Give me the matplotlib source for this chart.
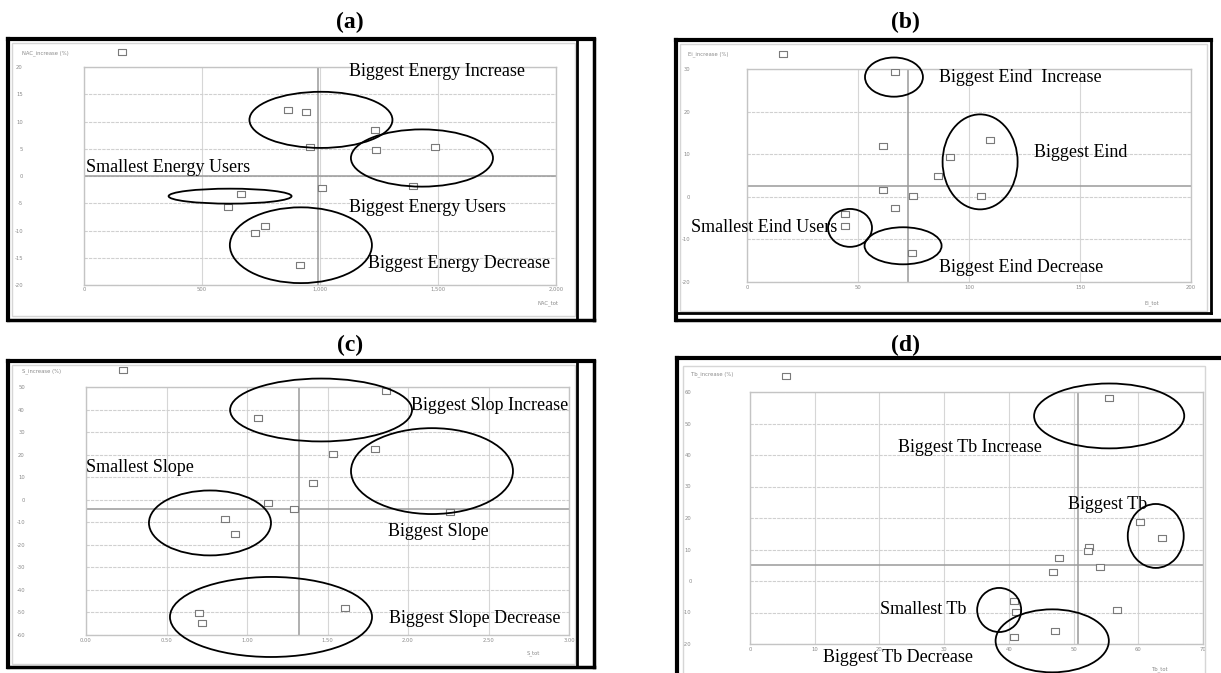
import matplotlib
matplotlib.use("Agg")
import matplotlib.pyplot as plt
from matplotlib.patches import Ellipse, Rectangle
from matplotlib.lines import Line2D

W, H = 1221, 673
fig = plt.figure(figsize=(W / 100, H / 100), dpi=100)
fig.patch.set_facecolor("white")

# ---------------- data ----------------
# (a) Energy (NAC)
a_x = [864, 940, 1233, 958, 1237, 1487, 1008, 1394, 665, 610, 767, 725, 915]
a_y = [12.2, 11.7, 8.5, 5.4, 4.8, 5.4, -2.2, -1.9, -3.3, -5.6, -9.1, -10.4, -16.3]
a_xticks = [0, 500, 1000, 1500, 2000]
a_xticklabels = ["0", "500", "1,000", "1,500", "2,000"]
a_yticks = [-20, -15, -10, -5, 0, 5, 10, 15, 20]
a_mean = (992, 0)

# (b) Eind
b_x = [66.7, 61.3, 61.3, 66.7, 44.1, 44.1, 109.5, 91.4, 86.0, 74.8, 105.4, 74.3]
b_y = [29.4, 12.0, 1.6, -2.6, -4.0, -6.8, 13.4, 9.4, 4.9, 0.2, 0.2, -13.2]
b_xticks = [0, 50, 100, 150, 200]
b_yticks = [-20, -10, 0, 10, 20, 30]
b_mean = (72.5, 2.5)

# (c) Slope
c_x = [1.068, 1.130, 1.292, 0.863, 0.925, 0.702, 0.720, 1.863, 1.534, 1.795, 1.410, 2.261, 1.609]
c_y = [36.3, -1.5, -4.1, -8.6, -15.2, -50.3, -54.7, 48.2, 20.3, 22.5, 7.4, -5.5, -48.0]
c_xticks = [0.0, 0.5, 1.0, 1.5, 2.0, 2.5, 3.0]
c_xticklabels = ["0.00", "0.50", "1.00", "1.50", "2.00", "2.50", "3.00"]
c_yticks = [-60, -50, -40, -30, -20, -10, 0, 10, 20, 30, 40, 50]
c_mean = (1.32, -4.1)

# (d) Tb
d_x = [55.5, 60.3, 63.7, 52.4, 52.2, 47.8, 46.8, 54.1, 56.7, 40.8, 41.1, 47.1, 40.8]
d_y = [58.1, 18.7, 13.7, 10.8, 9.6, 7.3, 2.9, 4.4, -9.2, -6.3, -9.8, -15.9, -17.8]
d_xticks = [0, 10, 20, 30, 40, 50, 60, 70]
d_yticks = [-20, -10, 0, 10, 20, 30, 40, 50, 60]
d_mean = (50.7, 5.1)

# annotations: (label, x, y) in data units; ellipses: (cx, cy, w, h)
a_texts = [("Biggest Energy Increase", 1123, 19.1), ("Smallest Energy Users", 8, 1.5),
           ("Biggest Energy Users", 1123, -5.7), ("Biggest Energy Decrease", 1203, -16.0)]
a_ells = [(1004, 10.3, 606, 10.3), (1432, 3.3, 602, 10.5), (619, -3.7, 521, 2.75), (919, -12.7, 602, 13.9)]

b_texts = [("Biggest Eind  Increase", 86.5, 28.1), ("Biggest Eind", 129.3, 10.3),
           ("Smallest Eind Users", -25.2, -7.3), ("Biggest Eind Decrease", 86.5, -16.5)]
b_ells = [(66.2, 28.1, 26.1, 9.2), (105, 8.2, 33.8, 22.3), (46.4, -7.3, 19.8, 8.9), (70.3, -11.5, 34.7, 8.7)]

c_texts = [("Biggest Slop Increase", 2.019, 42.0), ("Smallest Slope", 0.0, 14.1),
           ("Biggest Slope", 1.876, -14.3), ("Biggest Slope Decrease", 1.882, -52.5)]
c_ells = [(1.460, 39.8, 1.130, 27.9), (2.149, 12.7, 1.006, 38.1), (0.770, -10.3, 0.758, 28.8), (1.149, -52.0, 1.255, 35.5)]

d_texts = [("Biggest Tb Increase", 22.9, 42.5), ("Biggest Tb", 49.1, 24.4),
           ("Smallest Tb", 20.1, -9.2), ("Biggest Tb Decrease", 11.3, -24.4)]
d_ells = [(55.5, 52.4, 23.2, 20.6), (62.7, 14.3, 8.65, 20.3), (38.5, -9.2, 6.8, 14.0), (46.7, -19.0, 17.5, 20.0)]

SERIF = "Liberation Serif"
RECT = [(-1.5, -1), (1.5, -1), (1.5, 1), (-1.5, 1), (-1.5, -1)]


def fline(x0, y0, x1, y1, lw=2.2, color="black"):
    fig.add_artist(Line2D([x0 / W, x1 / W], [1 - y0 / H, 1 - y1 / H], color=color, lw=lw,
                          transform=fig.transFigure, solid_capstyle="projecting"))


def frect(l, t, r, b, lw=1.0, color="#d6d6d6"):
    fig.add_artist(Rectangle((l / W, 1 - b / H), (r - l) / W, (b - t) / H, fill=False,
                             edgecolor=color, lw=lw, transform=fig.transFigure))


def panel(box, xlim, ylim, xticks, xlabels, yticks, xs, ys, mean, texts, ells,
          ylab, ylab_pos, xlab, xlab_pos, legend_pos, ypad, xpad):
    l, t, r, b = box
    ax = fig.add_axes([l / W, 1 - b / H, (r - l) / W, (b - t) / H])
    ax.set_xlim(*xlim)
    ax.set_ylim(*ylim)
    ax.set_xticks(xticks)
    ax.set_xticklabels(xlabels if xlabels else [str(v) for v in xticks])
    ax.set_yticks(yticks)
    ax.set_yticklabels([str(v) for v in yticks])
    ax.tick_params(length=0, labelsize=3.8, labelcolor="#8a8a8a")
    ax.tick_params(axis="y", pad=ypad)
    ax.tick_params(axis="x", pad=xpad)
    for s in ax.spines.values():
        s.set_color("#c4c4c4")
        s.set_linewidth(1.0)
    ax.xaxis.grid(True, color="#d6d6d6", lw=0.8)
    ax.yaxis.grid(True, color="#d0d0d0", lw=0.8, linestyle=(0, (3, 1)))
    ax.set_axisbelow(True)
    ax.axvline(mean[0], color="#9a9a9a", lw=1.1, zorder=1)
    ax.axhline(mean[1], color="#9a9a9a", lw=1.1, zorder=1)
    ax.plot(xs, ys, linestyle="none", marker=RECT, markersize=5.8, mfc="white",
            mec="#7a7a7a", mew=0.8, zorder=3)
    for (cx, cy, w, h) in ells:
        ax.add_patch(Ellipse((cx, cy), w, h, fill=False, edgecolor="black", lw=1.3,
                             clip_on=False, zorder=5))
    for (s, x, y) in texts:
        ax.text(x, y, s, family=SERIF, fontsize=13, ha="left", va="center",
                clip_on=False, zorder=6)
    fig.text(ylab_pos[0] / W, 1 - ylab_pos[1] / H, ylab, fontsize=3.8, color="#8a8a8a",
             ha="left", va="center")
    fig.text(xlab_pos[0] / W, 1 - xlab_pos[1] / H, xlab, fontsize=3.8, color="#8a8a8a",
             ha="center", va="center")
    h = Line2D([], [], linestyle="none", marker=RECT, markersize=5.8, mfc="white",
               mec="#7a7a7a", mew=0.8)
    ax.legend([h], [""], loc="center", frameon=False, handlelength=0.5, handletextpad=0,
              borderpad=0, bbox_to_anchor=((legend_pos[0] - l) / (r - l), (b - legend_pos[1]) / (b - t)))
    return ax


# table / image frames
# row 1
fline(8, 39, 594, 39, lw=3)
fline(8, 39, 8, 320, lw=3)
fline(8, 320, 594, 320, lw=2.5)
fline(577, 39, 577, 319, lw=2)
fline(594, 39, 594, 320, lw=2.5)
frect(12, 43, 575, 316)
fline(676, 40, 1211, 40, lw=3)
fline(676, 40, 676, 320, lw=3)
fline(1211, 40, 1211, 313, lw=2)
fline(676, 313, 1211, 313, lw=2)
fline(676, 320, 1221, 320, lw=2.5)
frect(680, 44, 1207, 311)
# row 2
fline(8, 361, 594, 361, lw=3)
fline(8, 361, 8, 667, lw=3)
fline(8, 667, 594, 667, lw=2.5)
fline(577, 361, 577, 667, lw=2)
fline(594, 361, 594, 667, lw=2.5)
frect(12, 365, 575, 664)
fline(677, 358, 1221, 358, lw=3)
fline(677, 358, 677, 673, lw=3)
frect(683, 366, 1205, 680)

for lab, x, y in [("(a)", 350, 22), ("(b)", 905, 22), ("(c)", 350, 345), ("(d)", 905, 345)]:
    fig.text(x / W, 1 - y / H, lab, family=SERIF, fontsize=17, fontweight="bold",
             ha="center", va="center")

panel((84, 67, 556, 285), (0, 2000), (-20, 20), a_xticks, a_xticklabels, a_yticks,
      a_x, a_y, a_mean, a_texts, a_ells, "NAC_increase (%)", (22, 53), "NAC_tot", (548, 303),
      (122, 53), 44, 1.2)
panel((747, 69, 1191, 282), (0, 200), (-20, 30), b_xticks, None, b_yticks,
      b_x, b_y, b_mean, b_texts, b_ells, "Ei_increase (%)", (688, 54), "Ei_tot", (1152, 303),
      (783, 55), 41, 2.5)
panel((86, 387, 569, 635), (0, 3), (-60, 50), c_xticks, c_xticklabels, c_yticks,
      c_x, c_y, c_mean, c_texts, c_ells, "S_increase (%)", (22, 371), "S_tot", (533, 653),
      (123, 371), 44, 2.5)
panel((750, 392, 1203, 644), (0, 70), (-20, 60), d_xticks, None, d_yticks,
      d_x, d_y, d_mean, d_texts, d_ells, "Tb_increase (%)", (691, 374), "Tb_tot", (1160, 669),
      (786, 377), 42, 2)

fig.savefig("out.png", dpi=100, facecolor="white")
